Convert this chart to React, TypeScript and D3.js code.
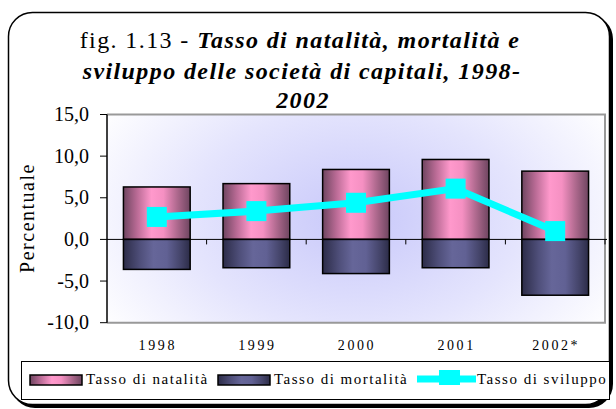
import React from "react";
import * as d3 from "d3";

const years = ["1998", "1999", "2000", "2001", "2002*"];
const natalita = [6.3, 6.7, 8.4, 9.6, 8.2];
const mortalita = [-3.6, -3.4, -4.1, -3.4, -6.7];
const sviluppo = [2.7, 3.4, 4.4, 6.1, 1.0];
const yTicks = [-10, -5, 0, 5, 10, 15];
const seriesNames = ["Tasso di natalità", "Tasso di mortalità", "Tasso di sviluppo"];

const W = 616, H = 409;
const L = 107, R = 605, T = 114.5, B = 322.7;

export default function App() {
  const x = d3.scaleBand<string>().domain(years).range([L, R]).paddingInner(0.33).paddingOuter(0.165);
  const step = (R - L) / years.length;
  const y = d3.scaleLinear().domain([-10, 15]).range([B, T]);
  const fmt = (v: number) => v.toFixed(1).replace(".", ",");
  const line = d3.line<number>().x((_, i) => (x(years[i]) as number) + x.bandwidth() / 2).y((d) => y(d));
  const serif = "'Liberation Serif', 'Times New Roman', serif";
  return (
    <svg width={W} height={H} style={{ position: "absolute", left: 0, top: 0 }}>
      <defs>
        <linearGradient id="pink" x1="0" x2="1" y1="0" y2="0">
          <stop offset="0" stopColor="#6e4560" />
          <stop offset="0.2" stopColor="#b86a94" />
          <stop offset="0.42" stopColor="#ff99cc" />
          <stop offset="0.6" stopColor="#f590c2" />
          <stop offset="0.8" stopColor="#b06a8f" />
          <stop offset="1" stopColor="#6e4560" />
        </linearGradient>
        <linearGradient id="navy" x1="0" x2="1" y1="0" y2="0">
          <stop offset="0" stopColor="#2c2c48" />
          <stop offset="0.25" stopColor="#4f4f7a" />
          <stop offset="0.45" stopColor="#666699" />
          <stop offset="0.65" stopColor="#616194" />
          <stop offset="0.85" stopColor="#45456b" />
          <stop offset="1" stopColor="#2c2c48" />
        </linearGradient>
        <radialGradient id="bg" cx="0.5" cy="0.5" r="0.6" gradientTransform="translate(0.5,0.5) scale(1,1.6) translate(-0.5,-0.5)">
          <stop offset="0" stopColor="#c8c8fa" />
          <stop offset="0.55" stopColor="#e4e4fd" />
          <stop offset="1" stopColor="#ffffff" />
        </radialGradient>
      </defs>
      <rect x={11} y={15} width={602} height={393} rx={24} fill="#000" />
      <rect x={8.5} y={12.5} width={601} height={392} rx={24} fill="#fff" stroke="#000" strokeWidth={1.5} />
      <g fontFamily={serif} fill="#000" textAnchor="middle" fontSize={24} letterSpacing={1.4}>
        <text x={300} y={48}>
          fig. 1.13 - <tspan fontWeight="bold" fontStyle="italic">Tasso di natalità, mortalità e</tspan>
        </text>
        <text x={302} y={79} fontWeight="bold" fontStyle="italic">sviluppo delle società di capitali, 1998-</text>
        <text x={303} y={108} fontWeight="bold" fontStyle="italic">2002</text>
      </g>
      <rect x={L} y={T} width={R - L} height={B - T} fill="url(#bg)" />
      <path d={`M${L},${T}H${R}V${B}H${L}`} fill="none" stroke="#999" strokeWidth={2} />
      {years.map((yr, i) => (
        <g key={yr}>
          <rect x={x(yr)} y={y(natalita[i])} width={x.bandwidth()} height={y(0) - y(natalita[i])} fill="url(#pink)" stroke="#000" strokeWidth={1.5} />
          <rect x={x(yr)} y={y(0)} width={x.bandwidth()} height={y(mortalita[i]) - y(0)} fill="url(#navy)" stroke="#000" strokeWidth={1.5} />
        </g>
      ))}
      <line x1={L} x2={R + 2} y1={y(0)} y2={y(0)} stroke="#000" strokeWidth={1} />
      {d3.range(1, years.length + 1).map((k) => (
        <line key={k} x1={L + step * k} x2={L + step * k} y1={y(0)} y2={y(0) + 5} stroke="#000" strokeWidth={1} />
      ))}
      <line x1={L} x2={L} y1={T} y2={B} stroke="#000" strokeWidth={1.5} />
      {yTicks.map((t) => (
        <g key={t}>
          <line x1={L - 7} x2={L} y1={y(t)} y2={y(t)} stroke="#000" strokeWidth={1} />
          <text x={89} y={y(t)} dy="0.33em" textAnchor="end" fontFamily={serif} fontSize={20}>{fmt(t)}</text>
        </g>
      ))}
      <text transform={`translate(34,218) rotate(-90)`} textAnchor="middle" fontFamily={serif} fontSize={20} letterSpacing={1.5}>Percentuale</text>
      <path d={line(sviluppo) as string} fill="none" stroke="#00ffff" strokeWidth={7} />
      {sviluppo.map((v, i) => (
        <rect key={i} x={(x(years[i]) as number) + x.bandwidth() / 2 - 10} y={y(v) - 10} width={20} height={20} fill="#00ffff" />
      ))}
      {years.map((yr) => (
        <text key={yr} x={(x(yr) as number) + x.bandwidth() / 2 + 1} y={350} textAnchor="middle" fontFamily={serif} fontSize={14} letterSpacing={2.6}>{yr}</text>
      ))}
      <rect x={21.5} y={361.5} width={588} height={38} fill="#fff" stroke="#000" strokeWidth={1} />
      <g fontFamily={serif} fontSize={15} letterSpacing={1.5}>
        <rect x={30} y={375} width={52} height={10} fill="url(#pink)" stroke="#000" strokeWidth={1.5} />
        <text x={86} y={384}>{seriesNames[0]}</text>
        <rect x={218} y={375} width={52} height={10} fill="url(#navy)" stroke="#000" strokeWidth={1.5} />
        <text x={274} y={384}>{seriesNames[1]}</text>
        <line x1={417} x2={476} y1={379} y2={379} stroke="#00ffff" strokeWidth={7} />
        <rect x={439} y={370} width={21} height={15} fill="#00ffff" />
        <text x={477} y={384}>{seriesNames[2]}</text>
      </g>
    </svg>
  );
}
